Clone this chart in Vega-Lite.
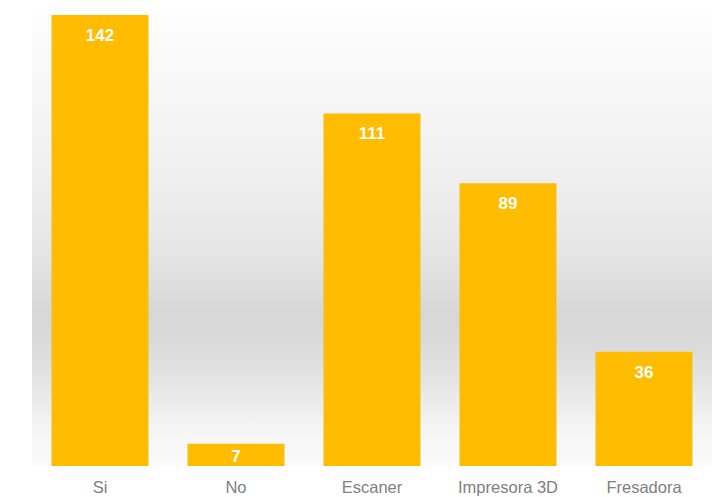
{
  "$schema": "https://vega.github.io/schema/vega-lite/v6.json",
  "width": 680,
  "height": 451,
  "padding": {"left": 32, "top": 15, "right": 6, "bottom": 0},
  "background": "#ffffff",
  "data": {"values": [
    {"category": "Si", "value": 142},
    {"category": "No", "value": 7},
    {"category": "Escaner", "value": 111},
    {"category": "Impresora 3D", "value": 89},
    {"category": "Fresadora", "value": 36}
  ]},
  "encoding": {
    "x": {"field": "category", "type": "nominal", "sort": null,
      "scale": {"paddingInner": 0.287, "paddingOuter": 0.1435},
      "axis": {"title": null, "domain": false, "ticks": false, "labelAngle": 0, "labelPadding": 13,
        "labelFont": "Liberation Sans", "labelFontSize": 16.5, "labelColor": "#808080"}},
    "y": {"field": "value", "type": "quantitative",
      "scale": {"domain": [0, 142], "nice": false},
      "axis": null}
  },
  "layer": [
    {"mark": {"type": "bar", "color": "#FFBC00"}},
    {"transform": [{"filter": "datum.value >= 20"}],
      "mark": {"type": "text", "color": "#ffffff", "font": "Liberation Sans", "fontWeight": "bold", "fontSize": 17, "baseline": "top", "dy": 13},
      "encoding": {"text": {"field": "value", "type": "quantitative"}}},
    {"transform": [{"filter": "datum.value < 20"}],
      "mark": {"type": "text", "color": "#ffffff", "font": "Liberation Sans", "fontWeight": "bold", "fontSize": 17, "baseline": "top", "dy": 5},
      "encoding": {"text": {"field": "value", "type": "quantitative"}}}
  ],
  "config": {
    "view": {"stroke": null,
      "fill": {"gradient": "linear", "x1": 0, "y1": 0, "x2": 0, "y2": 1,
        "stops": [
          {"offset": 0, "color": "#fdfdfd"},
          {"offset": 0.34, "color": "#f0f0f0"},
          {"offset": 0.52, "color": "#e6e6e6"},
          {"offset": 0.66, "color": "#d7d7d7"},
          {"offset": 0.72, "color": "#d9d9d9"},
          {"offset": 0.82, "color": "#e6e6e6"},
          {"offset": 0.92, "color": "#f5f5f5"},
          {"offset": 1, "color": "#fbfbfb"}
        ]}}
  }
}
